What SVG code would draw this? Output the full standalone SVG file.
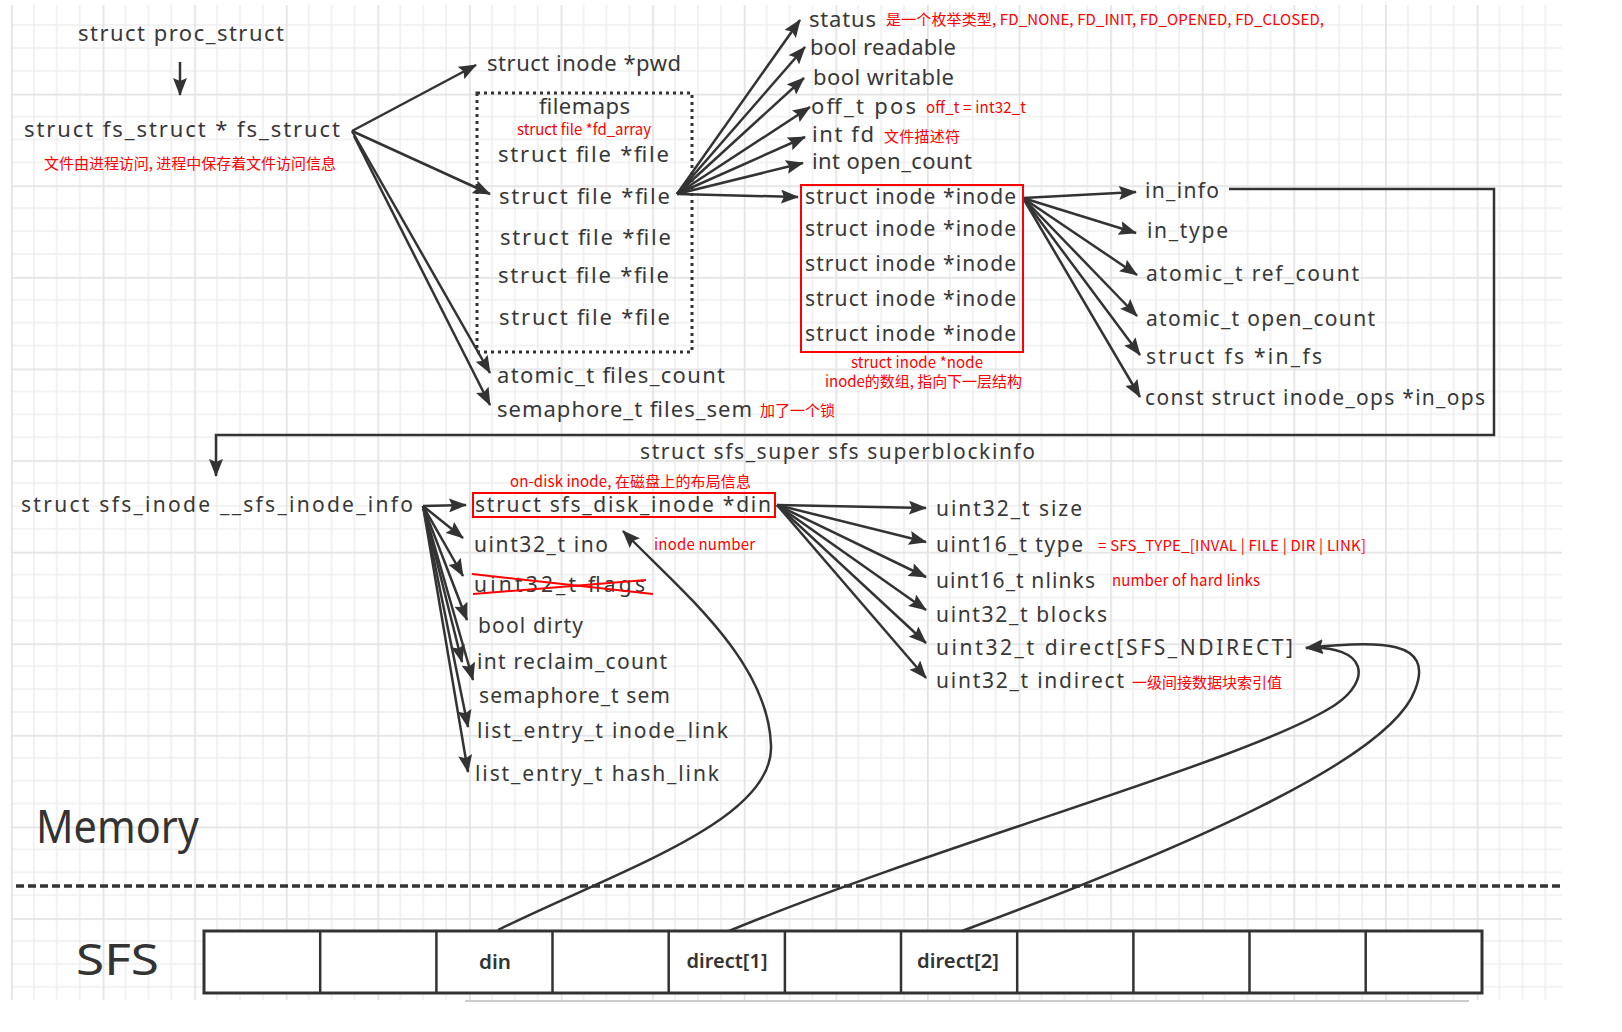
<svg xmlns="http://www.w3.org/2000/svg" width="1622" height="1032" viewBox="0 0 1622 1032">
<style>
.h{font-family:"Noto Sans","DejaVu Sans",sans-serif;font-size:21px;fill:#383838}
.hb{font-size:22px}
.r{font-family:"Noto Sans CJK SC","Noto Sans",sans-serif;font-size:15px;fill:#ff0000}
.c{fill:none;stroke:#333;stroke-width:2.5}
.a{marker-end:url(#ah)}
.big{font-family:"Noto Sans","DejaVu Sans",sans-serif;fill:#333}
.cell{font-family:"Noto Sans","DejaVu Sans",sans-serif;font-size:20px;font-weight:600;fill:#333;text-anchor:middle}
</style>
<defs>
<marker id="ah" viewBox="0 0 18 14" refX="17" refY="7" markerWidth="18" markerHeight="14" markerUnits="userSpaceOnUse" orient="auto">
<path d="M0,0 L18,7 L0,14 L3,7 z" fill="#333"/>
</marker>
<pattern id="grid" x="11" y="2.1" width="91.6" height="91.6" patternUnits="userSpaceOnUse">
<path d="M22.9,0V91.6M45.8,0V91.6M68.7,0V91.6M0,22.9H91.6M0,45.8H91.6M0,68.7H91.6" stroke="#efefef" stroke-width="1.6" fill="none"/>
<path d="M0.8,0V91.6M0,0.8H91.6" stroke="#e3e3e3" stroke-width="1.8" fill="none"/>
</pattern>
</defs>
<rect x="0" y="0" width="1622" height="1032" fill="#fff"/>
<rect x="11" y="5" width="1551" height="995" fill="url(#grid)"/>

<g id="connectors">
<line class="c a" x1="180" y1="62" x2="180" y2="95"/>
<line class="c a" x1="352" y1="131" x2="476" y2="65"/>
<line class="c a" x1="352" y1="131" x2="490" y2="194"/>
<line class="c a" x1="352" y1="131" x2="490" y2="373"/>
<line class="c a" x1="354" y1="136" x2="490" y2="405"/>
<line class="c a" x1="677" y1="194" x2="800" y2="20"/>
<line class="c a" x1="677" y1="194" x2="805" y2="47"/>
<line class="c a" x1="677" y1="194" x2="804" y2="78"/>
<line class="c a" x1="677" y1="194" x2="810" y2="107"/>
<line class="c a" x1="677" y1="194" x2="805" y2="137"/>
<line class="c a" x1="677" y1="194" x2="803" y2="163"/>
<line class="c a" x1="677" y1="194" x2="798" y2="197"/>
<line class="c a" x1="1023" y1="198" x2="1136" y2="192"/>
<line class="c a" x1="1023" y1="198" x2="1136" y2="233"/>
<line class="c a" x1="1023" y1="198" x2="1137" y2="275"/>
<line class="c a" x1="1023" y1="198" x2="1137" y2="316"/>
<line class="c a" x1="1023" y1="198" x2="1140" y2="355"/>
<line class="c a" x1="1023" y1="198" x2="1140" y2="397"/>
<polyline class="c a" points="1229,189 1494,189 1494,435 216,435 216,476"/>
<line class="c a" x1="423" y1="506" x2="466" y2="505"/>
<line class="c a" x1="423" y1="506" x2="463" y2="538"/>
<line class="c a" x1="423" y1="506" x2="463" y2="576"/>
<line class="c a" x1="423" y1="506" x2="467" y2="620"/>
<line class="c a" x1="423" y1="506" x2="462" y2="662"/>
<line class="c a" x1="423" y1="506" x2="473" y2="680"/>
<line class="c a" x1="423" y1="506" x2="468" y2="727"/>
<line class="c a" x1="423" y1="506" x2="468" y2="772"/>
<line class="c a" x1="777" y1="505" x2="926" y2="508"/>
<line class="c a" x1="777" y1="505" x2="926" y2="542"/>
<line class="c a" x1="777" y1="505" x2="926" y2="577"/>
<line class="c a" x1="777" y1="505" x2="926" y2="610"/>
<line class="c a" x1="777" y1="505" x2="926" y2="643"/>
<line class="c a" x1="777" y1="505" x2="926" y2="678"/>
<path class="c a" d="M498,930 C620,870 775,820 771,745 C768,660 680,590 623,531"/>
<path class="c a" d="M729,931 C950,840 1250,760 1335,705 C1372,680 1368,645 1306,648"/>
<path class="c a" d="M962,931 C1180,850 1390,760 1415,690 C1435,640 1380,640 1306,648"/>
</g>

<g id="proc_struct"><text class="h hb" x="78" y="41" textLength="206">struct proc_struct</text></g>
<g id="fs_struct">
<text class="h hb" x="24" y="137" textLength="316">struct fs_struct * fs_struct</text>
<text class="r" x="44" y="169" textLength="292">文件由进程访问, 进程中保存着文件访问信息</text>
</g>
<g id="pwd"><text class="h hb" x="487" y="71" textLength="194">struct inode *pwd</text></g>
<g id="filemaps">
<rect x="477" y="93" width="215" height="259" fill="none" stroke="#333" stroke-width="3" stroke-dasharray="3 4"/>
<text class="h hb" x="539" y="114" textLength="91">filemaps</text>
<text class="r" x="517" y="135" font-size="14" textLength="134">struct file *fd_array</text>
<text class="h hb" x="498" y="162" textLength="171">struct file *file</text>
<text class="h hb" x="499" y="204" textLength="171">struct file *file</text>
<text class="h hb" x="500" y="245" textLength="171">struct file *file</text>
<text class="h hb" x="498" y="283" textLength="171">struct file *file</text>
<text class="h hb" x="499" y="325" textLength="171">struct file *file</text>
</g>
<g id="files_count"><text class="h hb" x="497" y="383" textLength="228">atomic_t files_count</text></g>
<g id="files_sem">
<text class="h hb" x="497" y="417" textLength="255">semaphore_t files_sem</text>
<text class="r" x="760" y="416" textLength="75">加了一个锁</text>
</g>
<g id="file_fields">
<text class="h hb" x="809" y="27" textLength="67">status</text>
<text class="r" x="886" y="25" textLength="438">是一个枚举类型, FD_NONE, FD_INIT, FD_OPENED, FD_CLOSED,</text>
<text class="h hb" x="810" y="55" textLength="146">bool readable</text>
<text class="h hb" x="813" y="85" textLength="141">bool writable</text>
<text class="h hb" x="811" y="114" textLength="105">off_t pos</text>
<text class="r" x="926" y="113" textLength="100">off_t = int32_t</text>
<text class="h hb" x="812" y="142" textLength="62">int fd</text>
<text class="r" x="884" y="142" textLength="76">文件描述符</text>
<text class="h hb" x="812" y="169" textLength="160">int open_count</text>
</g>
<g id="inode_array">
<rect x="801" y="185" width="222" height="167" fill="none" stroke="#ff0000" stroke-width="2"/>
<text class="h" x="805" y="204" textLength="211">struct inode *inode</text>
<text class="h" x="805" y="236" textLength="211">struct inode *inode</text>
<text class="h" x="805" y="271" textLength="211">struct inode *inode</text>
<text class="h" x="805" y="306" textLength="211">struct inode *inode</text>
<text class="h" x="805" y="341" textLength="211">struct inode *inode</text>
<text class="r" x="851" y="368" textLength="132">struct inode *node</text>
<text class="r" x="825" y="387" textLength="197">inode的数组, 指向下一层结构</text>
</g>
<g id="inode_fields">
<text class="h" x="1145" y="198" textLength="74">in_info</text>
<text class="h" x="1147" y="238" textLength="81">in_type</text>
<text class="h" x="1146" y="281" textLength="213">atomic_t ref_count</text>
<text class="h" x="1146" y="326" textLength="229">atomic_t open_count</text>
<text class="h" x="1146" y="364" textLength="176">struct fs *in_fs</text>
<text class="h" x="1145" y="405" textLength="340">const struct inode_ops *in_ops</text>
</g>
<g id="superblockinfo"><text class="h" x="640" y="459" textLength="395">struct sfs_super sfs superblockinfo</text></g>
<g id="sfs_inode_info"><text class="h" x="21" y="512" textLength="392">struct sfs_inode __sfs_inode_info</text></g>
<g id="sfs_inode_fields">
<text class="r" x="510" y="487" textLength="241">on-disk inode, 在磁盘上的布局信息</text>
<rect x="473" y="493" width="302" height="24" fill="none" stroke="#ff0000" stroke-width="2"/>
<text class="h" x="475" y="512" textLength="296">struct sfs_disk_inode *din</text>
<text class="h" x="474" y="552" textLength="134">uint32_t ino</text>
<text class="r" x="654" y="550" textLength="101">inode number</text>
<text class="h" x="474" y="592" textLength="171">uint32_t flags</text>
<line x1="472" y1="574" x2="653" y2="594" stroke="#ff0000" stroke-width="2"/>
<line x1="473" y1="594" x2="646" y2="580" stroke="#ff0000" stroke-width="2"/>
<text class="h" x="478" y="633" textLength="105">bool dirty</text>
<text class="h" x="477" y="669" textLength="190">int reclaim_count</text>
<text class="h" x="479" y="703" textLength="191">semaphore_t sem</text>
<text class="h" x="477" y="738" textLength="251">list_entry_t inode_link</text>
<text class="h" x="475" y="781" textLength="244">list_entry_t hash_link</text>
</g>
<g id="disk_inode_fields">
<text class="h" x="936" y="516" textLength="146">uint32_t size</text>
<text class="h" x="936" y="552" textLength="147">uint16_t type</text>
<text class="r" x="1098" y="551" textLength="268">= SFS_TYPE_[INVAL | FILE | DIR | LINK]</text>
<text class="h" x="936" y="588" textLength="159">uint16_t nlinks</text>
<text class="r" x="1112" y="586" textLength="148">number of hard links</text>
<text class="h" x="936" y="622" textLength="171">uint32_t blocks</text>
<text class="h" x="936" y="655" textLength="357">uint32_t direct[SFS_NDIRECT]</text>
<text class="h" x="936" y="688" textLength="188">uint32_t indirect</text>
<text class="r" x="1132" y="688" textLength="150">一级间接数据块索引值</text>
</g>
<g id="memory">
<text class="big" x="36" y="843" font-size="46" textLength="163" lengthAdjust="spacingAndGlyphs">Memory</text>
<line x1="16" y1="886" x2="1562" y2="886" stroke="#333" stroke-width="3.5" stroke-dasharray="8 4"/>
</g>
<g id="sfs">
<text class="big" x="76" y="975" font-size="44" textLength="83" lengthAdjust="spacingAndGlyphs">SFS</text>
<rect x="204" y="931" width="1278" height="62" fill="#fff" stroke="#333" stroke-width="3"/>
<path d="M320.2,931V993M436.4,931V993M552.5,931V993M668.7,931V993M784.9,931V993M901,931V993M1017.2,931V993M1133.4,931V993M1249.5,931V993M1365.7,931V993" stroke="#333" stroke-width="2.5"/>
<text class="cell" x="495" y="969" textLength="32" lengthAdjust="spacingAndGlyphs">din</text>
<text class="cell" x="727" y="968" textLength="81" lengthAdjust="spacingAndGlyphs">direct[1]</text>
<text class="cell" x="958" y="968" textLength="82" lengthAdjust="spacingAndGlyphs">direct[2]</text>
<line x1="465" y1="1001" x2="1469" y2="1001" stroke="#ccc" stroke-width="2"/>
</g>
</svg>
